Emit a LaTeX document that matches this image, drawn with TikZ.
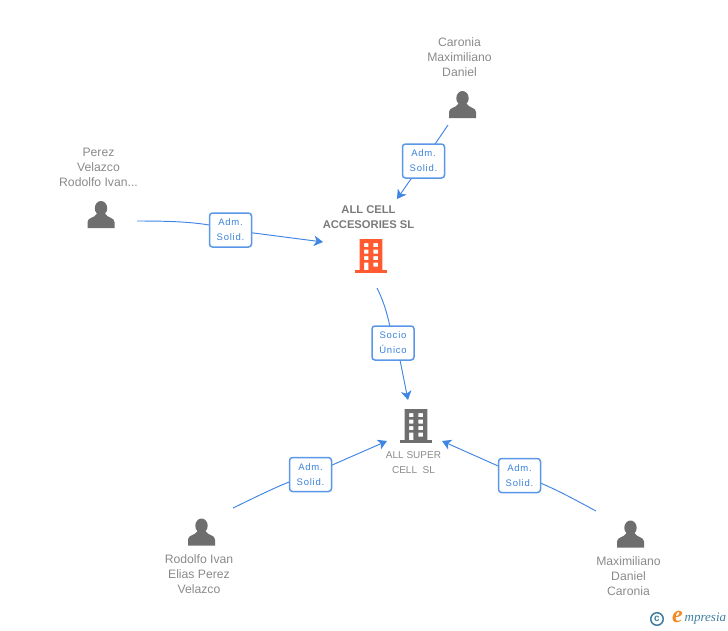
\documentclass[tikz,border=0pt]{standalone}
\usepackage{fontspec}
\setmainfont{Liberation Sans}
\newfontfamily\logofont{Liberation Serif}
\usetikzlibrary{arrows.meta}
\definecolor{linkblue}{HTML}{3F86E4}
\definecolor{boxblue}{HTML}{5A97E8}
\definecolor{labelblue}{HTML}{3A82DC}
\definecolor{txtgray}{HTML}{8A8A8A}
\definecolor{boldgray}{HTML}{7A7A7A}
\definecolor{icongray}{HTML}{6E6E6E}
\definecolor{bldorange}{HTML}{FF5A30}
\definecolor{logoblue}{HTML}{3F7F9F}
\definecolor{logoorange}{HTML}{F08A24}
\tikzset{
  link/.style={draw=linkblue,line width=0.95pt},
  arrowlink/.style={link,-{Stealth[length=9pt,width=10.5pt,inset=2.5pt]}},
  rolebox/.style={draw=boxblue,line width=1.5pt,rounded corners=3pt,fill=white,
    minimum width=42pt,minimum height=34pt,inner sep=0pt,align=center,
    text=labelblue,font=\fontsize{9.5}{15}\selectfont\addfontfeature{LetterSpace=8}},
  lbl/.style={align=center,text=txtgray,inner sep=0pt,font=\fontsize{12.2}{15}\selectfont},
  boldlbl/.style={lbl,text=boldgray,font=\fontsize{11.2}{15}\selectfont\bfseries},
  person/.pic={
    \fill[icongray] (0,-6.3) ellipse (6.2 and 7.2);
    \fill[icongray] (-13.5,13.5) -- (-13.5,7.5) .. controls (-13.5,3) and (-6.5,3.5) .. (-3.8,-1)
      -- (3.8,-1) .. controls (6.5,3.5) and (13.5,3) .. (13.5,7.5) -- (13.5,13.5) -- cycle;
  },
  building/.pic={
    \fill[even odd rule,pic actions]
      (-11.3,-16.5) rectangle (11.3,14.5)
      (-7,-12.5) rectangle (-2.6,-8.5) (2.4,-12.5) rectangle (7,-8.5)
      (-7,-6) rectangle (-2.6,-2) (2.4,-6) rectangle (7,-2)
      (-7,0.5) rectangle (-2.6,4.5) (2.4,0.5) rectangle (7,4.5)
      (-7,7) rectangle (-2.6,14.5) (2.4,7) rectangle (7,11);
    \fill[pic actions] (-16,14.5) rectangle (16,17);
  },
}
\begin{document}
\begin{tikzpicture}[x=1pt,y=-1pt]
\useasboundingbox (0,0) rectangle (728,630);
% people labels
\node[lbl] (caronialbl) at (459.5,57) {Caronia\\Maximiliano\\Daniel};
\node[lbl] (perezlbl) at (98.5,167) {Perez\\Velazco\\Rodolfo Ivan...};
\node[lbl] (rodolfolbl) at (199,574) {Rodolfo Ivan\\Elias Perez\\Velazco};
\node[lbl] (maxlbl) at (628.5,576) {Maximiliano\\Daniel\\Caronia};
\node[boldlbl] (celllbl) at (368.5,217.5) {ALL CELL\\ACCESORIES SL};
\node[lbl,font=\fontsize{10}{15}\selectfont] (superlbl) at (413.5,463) {ALL SUPER\\CELL\ \ SL};
% icons
\pic at (462.5,104.5) {person};
\pic at (101,214.5) {person};
\pic at (201.5,532) {person};
\pic at (630.5,534) {person};
\pic[fill=bldorange] at (371,255.5) {building};
\pic[fill=icongray] at (416,425.5) {building};
% connector ends
\coordinate (caroniaend) at (448,125);
\coordinate (perezend) at (137,221);
\coordinate (cellend) at (377,288);
\coordinate (rodolfoend) at (233,508);
\coordinate (maxend) at (596,511);
\coordinate (cellina) at (397,199);
\coordinate (cellinb) at (323,242);
\coordinate (superina) at (408,400);
\coordinate (superinb) at (387,441);
\coordinate (superinc) at (442,441);
% role boxes sit on top of the connectors
\coordinate (boxa) at (423.5,161);
\coordinate (boxb) at (230.5,230);
\coordinate (boxc) at (393,343);
\coordinate (boxd) at (310.5,474.5);
\coordinate (boxe) at (519.5,475.5);
\coordinate (boxcout) at (398,350);
\draw[link] (caroniaend) -- (boxa);
\draw[arrowlink] (boxa) -- (cellina);
\draw[link] (perezend) .. controls (175,221) and (205,222) .. (boxb);
\draw[arrowlink] (boxb) -- (cellinb);
\draw[link] (cellend) .. controls (384,302) and (389,318) .. (boxc);
\draw[arrowlink] (boxcout) -- (superina);
\draw[link] (rodolfoend) .. controls (260,495) and (285,482) .. (boxd);
\draw[arrowlink] (boxd) -- (superinb);
\draw[link] (maxend) .. controls (570,497) and (545,483) .. (boxe);
\draw[arrowlink] (boxe) -- (superinc);
\node[rolebox] (rolea) at (boxa) {\raisebox{-1.2pt}{Adm.}\\\raisebox{-1.2pt}{Solid.}};
\node[rolebox] (roleb) at (boxb) {\raisebox{-1.2pt}{Adm.}\\\raisebox{-1.2pt}{Solid.}};
\node[rolebox] (rolec) at (boxc) {\raisebox{-1.2pt}{Socio}\\\raisebox{-1.2pt}{Único}};
\node[rolebox] (roled) at (boxd) {\raisebox{-1.2pt}{Adm.}\\\raisebox{-1.2pt}{Solid.}};
\node[rolebox] (rolee) at (boxe) {\raisebox{-1.2pt}{Adm.}\\\raisebox{-1.2pt}{Solid.}};
% logo
\node[circle,draw=logoblue,line width=1.5pt,text=logoblue,minimum size=12.5pt,inner sep=0pt,font=\fontsize{10}{10}\selectfont\bfseries] (copy) at (657,619) {c};
\node[text=logoorange,inner sep=0pt,font=\logofont\itshape\bfseries\fontsize{24}{24}\selectfont] (logoe) at (677.5,617) {e};
\node[text=logoblue,inner sep=0pt,anchor=west,font=\logofont\itshape\fontsize{13}{13}\selectfont] (logotxt) at (684.5,619) {mpresia};
\end{tikzpicture}
\end{document}
